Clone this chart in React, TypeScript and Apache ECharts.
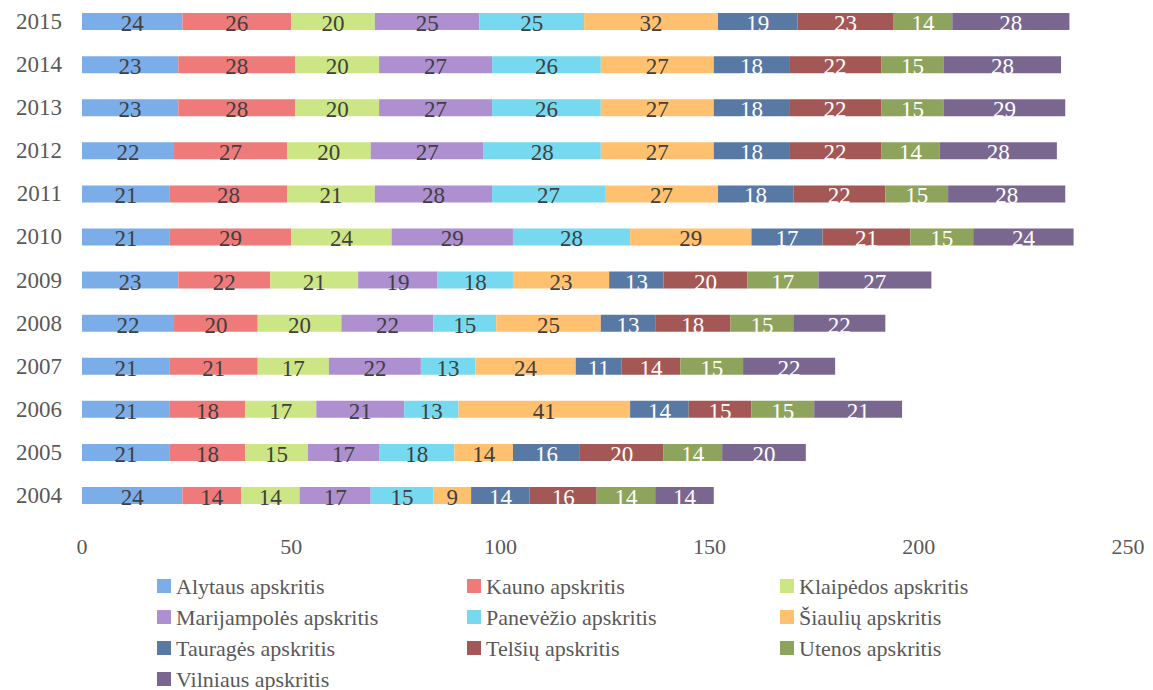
import React, { useEffect, useRef } from "react";
import * as echarts from "echarts";

const years = ["2004", "2005", "2006", "2007", "2008", "2009", "2010", "2011", "2012", "2013", "2014", "2015"];

const seriesNames = [
  "Alytaus apskritis",
  "Kauno apskritis",
  "Klaipėdos apskritis",
  "Marijampolės apskritis",
  "Panevėžio apskritis",
  "Šiaulių apskritis",
  "Tauragės apskritis",
  "Telšių apskritis",
  "Utenos apskritis",
  "Vilniaus apskritis",
];

// values per series, ordered 2004 .. 2015
const alytaus = [24, 21, 21, 21, 22, 23, 21, 21, 22, 23, 23, 24];
const kauno = [14, 18, 18, 21, 20, 22, 29, 28, 27, 28, 28, 26];
const klaipedos = [14, 15, 17, 17, 20, 21, 24, 21, 20, 20, 20, 20];
const marijampoles = [17, 17, 21, 22, 22, 19, 29, 28, 27, 27, 27, 25];
const panevezio = [15, 18, 13, 13, 15, 18, 28, 27, 28, 26, 26, 25];
const siauliu = [9, 14, 41, 24, 25, 23, 29, 27, 27, 27, 27, 32];
const taurages = [14, 16, 14, 11, 13, 13, 17, 18, 18, 18, 18, 19];
const telsiu = [16, 20, 15, 14, 18, 20, 21, 22, 22, 22, 22, 23];
const utenos = [14, 14, 15, 15, 15, 17, 15, 15, 14, 15, 15, 14];
const vilniaus = [14, 20, 21, 22, 22, 27, 24, 28, 28, 29, 28, 28];

const allValues = [alytaus, kauno, klaipedos, marijampoles, panevezio, siauliu, taurages, telsiu, utenos, vilniaus];

const colors = ["#7BAEE8", "#EE7B7A", "#CCE685", "#AE8FCF", "#77D9F0", "#FFC170", "#5879A3", "#A35855", "#8EA35B", "#7A6790"];
const labelColors = ["#404040", "#404040", "#404040", "#404040", "#404040", "#404040", "#ffffff", "#ffffff", "#ffffff", "#ffffff"];

const xTicks = { min: 0, max: 250, interval: 50 };

const legendCols = [
  [0, 3, 6, 9],
  [1, 4, 7],
  [2, 5, 8],
];
const legendLefts = [157, 467, 780];

const FONT = "Liberation Serif";

export default function App() {
  const ref = useRef<HTMLDivElement>(null);
  useEffect(() => {
    document.body.style.margin = "0";
    if (!ref.current) return;
    const chart = echarts.init(ref.current, null, { renderer: "svg" });
    const series = seriesNames.map((name, i) => ({
      name,
      type: "bar",
      stack: "total",
      barWidth: 17,
      data: allValues[i],
      itemStyle: { color: colors[i] },
      label: {
        show: true,
        position: "inside",
        color: labelColors[i],
        fontFamily: FONT,
        fontSize: 23,
        offset: [0, 2],
      },
    }));
    chart.setOption({
      animation: false,
      backgroundColor: "#ffffff",
      color: colors,
      textStyle: { fontFamily: FONT },
      grid: { left: 82, right: 25, top: -1, height: 518, containLabel: false },
      xAxis: {
        type: "value",
        min: xTicks.min,
        max: xTicks.max,
        interval: xTicks.interval,
        axisLine: { show: false },
        axisTick: { show: false },
        splitLine: { show: false },
        axisLabel: { color: "#595959", fontFamily: FONT, fontSize: 22, margin: 18 },
      },
      yAxis: {
        type: "category",
        data: years,
        axisLine: { show: false },
        axisTick: { show: false },
        axisLabel: { color: "#595959", fontFamily: FONT, fontSize: 23, margin: 20 },
      },
      legend: legendCols.map((col, c) => ({
        orient: "vertical",
        left: legendLefts[c],
        top: 575,
        width: 320,
        height: 140,
        itemWidth: 14,
        itemHeight: 14,
        itemGap: 9,
        icon: "rect",
        padding: 0,
        data: col.map((k) => seriesNames[k]),
        textStyle: { color: "#595959", fontFamily: FONT, fontSize: 22 },
      })),
      series,
    });
    return () => chart.dispose();
  }, []);
  return <div ref={ref} style={{ width: 1153, height: 690 }} />;
}
